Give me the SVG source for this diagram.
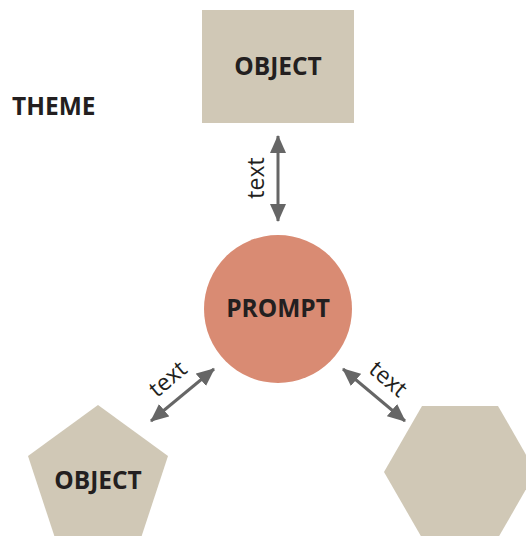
<svg xmlns="http://www.w3.org/2000/svg" width="526" height="536" viewBox="0 0 526 536">
  <style>
    .shape { fill: #D0C8B6; }
    .lbl { font-family: "Open Sans", "Noto Sans", "Liberation Sans", sans-serif; font-weight: bold; font-size: 24.5px; fill: #231F20; text-anchor: middle; dominant-baseline: central; }
    .edge { stroke: #666666; stroke-width: 3; fill: none; marker-start: url(#ah); marker-end: url(#ah); }
    .elbl { font-family: "Open Sans", "Noto Sans", "Liberation Sans", sans-serif; font-size: 23px; fill: #231F20; text-anchor: middle; dominant-baseline: central; }
  </style>
  <defs>
    <marker id="ah" markerUnits="userSpaceOnUse" markerWidth="18" markerHeight="16" refX="17" refY="8" orient="auto-start-reverse">
      <path d="M0,0 L18,8 L0,16 z" fill="#666666"/>
    </marker>
  </defs>
  <rect width="526" height="536" fill="#FFFFFF"/>
  <g id="theme">
    <text x="12" y="105" class="lbl" style="text-anchor:start">THEME</text>
  </g>
  <g id="object-top">
    <rect class="shape" x="202" y="10" width="152" height="113"/>
    <text class="lbl" x="278" y="65">OBJECT</text>
  </g>
  <g id="prompt">
    <circle cx="278" cy="309" r="74" fill="#D98B73"/>
    <text class="lbl" x="278" y="307">PROMPT</text>
  </g>
  <g id="object-left">
    <polygon class="shape" points="98,405 168,456 141,538 55,538 28,456"/>
    <text class="lbl" x="98" y="479">OBJECT</text>
  </g>
  <g id="hexagon">
    <polygon class="shape" points="422,406 498,406 536,472 498,538 422,538 384,472"/>
  </g>
  <g id="connectors">
    <line class="edge" x1="278" y1="136" x2="278" y2="221"/>
    <text class="elbl" transform="translate(255,178) rotate(-90)">text</text>
    <line class="edge" x1="151" y1="421" x2="214" y2="369"/>
    <text class="elbl" transform="translate(167,378) rotate(-40)">text</text>
    <line class="edge" x1="343" y1="369" x2="405" y2="421"/>
    <text class="elbl" transform="translate(389,378) rotate(40)">text</text>
  </g>
</svg>
